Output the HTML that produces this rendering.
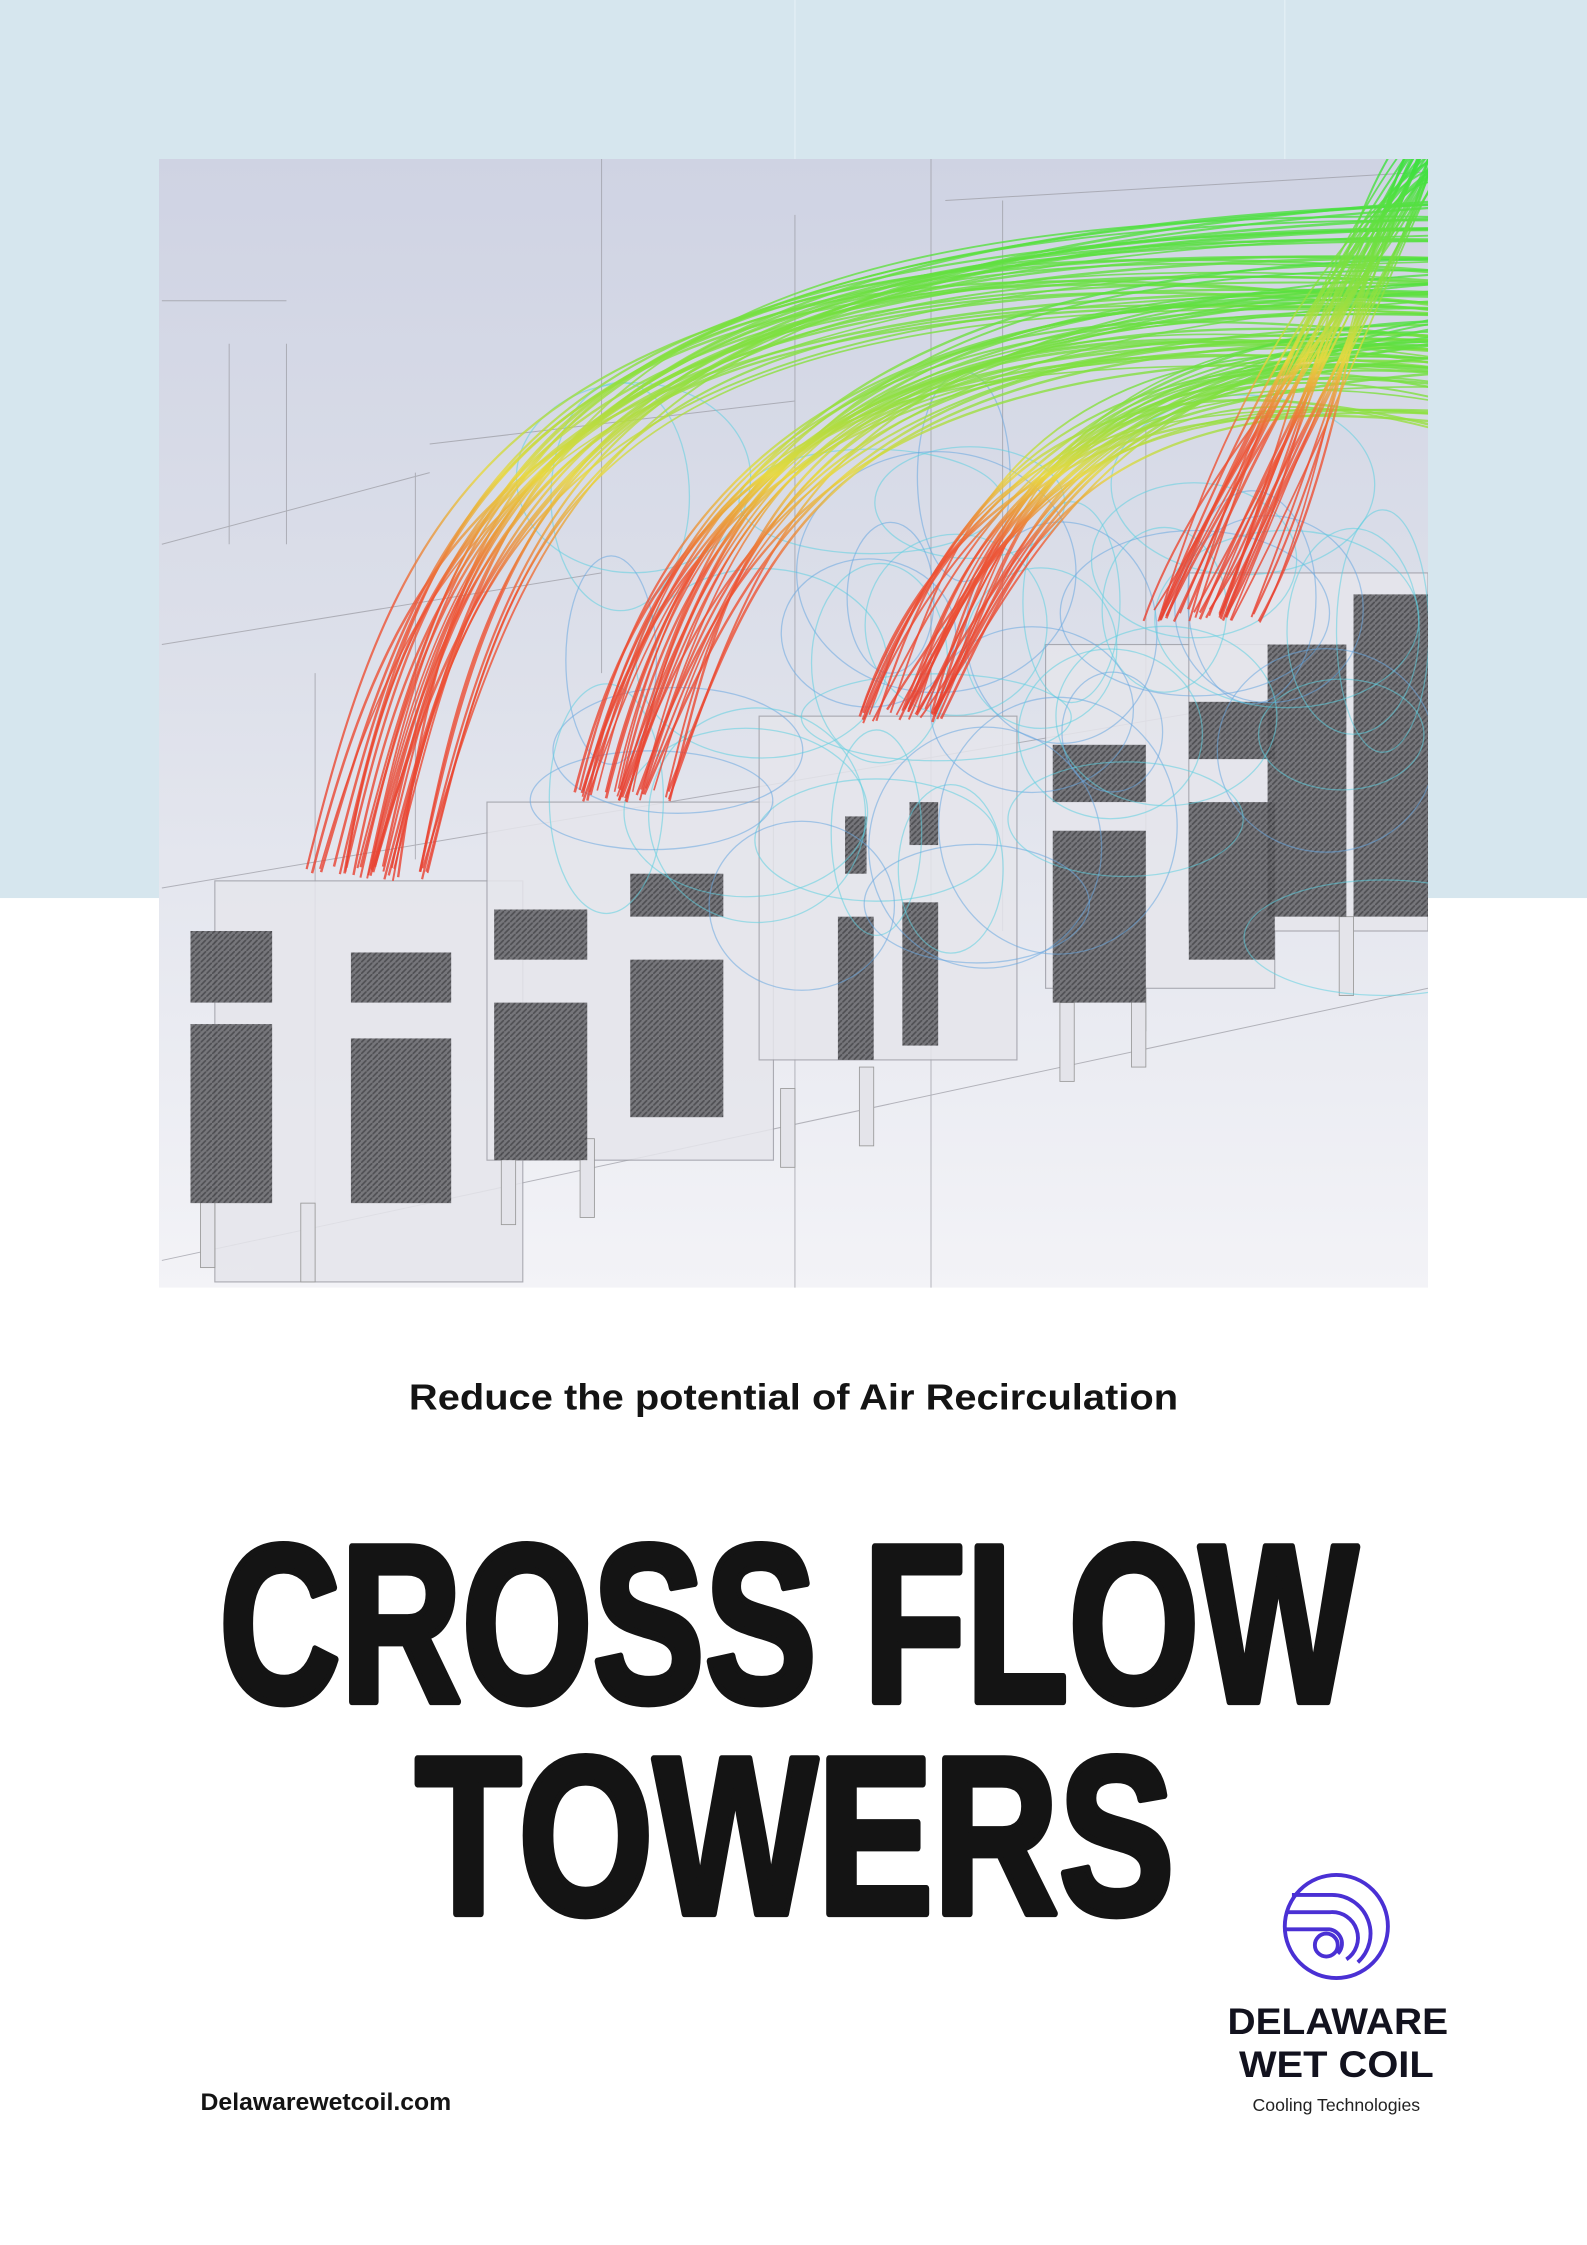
<!DOCTYPE html>
<html><head><meta charset="utf-8">
<style>
html,body{margin:0;padding:0;background:#fff;}
svg{display:block;}
</style></head>
<body>
<svg id="s" width="1587" height="2245" viewBox="0 0 1108 1567.4" xmlns="http://www.w3.org/2000/svg">
<defs id="defs">
<linearGradient id="bg" x1="0" y1="0" x2="0" y2="1">
<stop offset="0" stop-color="#cfd3e3"/><stop offset="0.45" stop-color="#dde0ea"/><stop offset="1" stop-color="#f3f3f7"/>
</linearGradient>
<clipPath id="cp"><rect x="111" y="111" width="886" height="788"/></clipPath>
<pattern id="hatch" width="4" height="4" patternUnits="userSpaceOnUse">
<rect width="4" height="4" fill="#6a6a6e"/><path d="M0 4L4 0" stroke="#3e3e42" stroke-width="1.2"/>
</pattern>
</defs>
<rect x="0" y="0" width="1108" height="627" fill="#d6e6ee"/>
<line x1="555" y1="0" x2="555" y2="627" stroke="#e2eef4" stroke-width="1"/>
<line x1="897" y1="0" x2="897" y2="627" stroke="#e2eef4" stroke-width="1"/>
<g clip-path="url(#cp)">
<rect x="111" y="111" width="886" height="788" fill="url(#bg)"/>
<g id="wire" fill="none" stroke="#9a9aa2" stroke-width="0.7" opacity="0.7"></g>
<g id="boxes"></g>
<g id="lines" fill="none"></g>
</g>
<text x="554" y="984" text-anchor="middle" font-family="Liberation Sans, sans-serif" font-size="25" font-weight="bold" fill="#141414" textLength="537" lengthAdjust="spacingAndGlyphs">Reduce the potential of Air Recirculation</text>
<text x="153" y="1188" font-family="Liberation Sans, sans-serif" font-size="157" font-weight="bold" fill="#141414" stroke="#141414" stroke-width="5" stroke-linejoin="round" textLength="795" lengthAdjust="spacingAndGlyphs">CROSS FLOW</text>
<text x="290" y="1336" font-family="Liberation Sans, sans-serif" font-size="157" font-weight="bold" fill="#141414" stroke="#141414" stroke-width="5" stroke-linejoin="round" textLength="530" lengthAdjust="spacingAndGlyphs">TOWERS</text>
<g fill="none" stroke="#4a30d4" stroke-width="2.7">
<circle cx="933" cy="1345" r="36"/>
<path d="M902 1323 H930 A27 27 0 0 1 948 1370"/>
<path d="M898 1335 H929 A18 18 0 0 1 940 1368"/>
<path d="M898 1347 H928 A10 10 0 0 1 934 1364"/>
<circle cx="926" cy="1358" r="8"/>
</g>
<text x="934" y="1420" text-anchor="middle" font-family="Liberation Sans, sans-serif" font-size="26" font-weight="bold" fill="#12121e" textLength="154" lengthAdjust="spacingAndGlyphs">DELAWARE</text>
<text x="933" y="1450" text-anchor="middle" font-family="Liberation Sans, sans-serif" font-size="26" font-weight="bold" fill="#12121e" textLength="136" lengthAdjust="spacingAndGlyphs">WET COIL</text>
<text x="933" y="1474" text-anchor="middle" font-family="Liberation Sans, sans-serif" font-size="12" fill="#222" textLength="117" lengthAdjust="spacingAndGlyphs">Cooling Technologies</text>
<text x="140" y="1473" font-family="Liberation Sans, sans-serif" font-size="17" font-weight="bold" fill="#141414" textLength="175" lengthAdjust="spacingAndGlyphs">Delawarewetcoil.com</text>
</svg>
<script>
var NS="http://www.w3.org/2000/svg";
function el(p,t,a){var e=document.createElementNS(NS,t);for(var k in a)e.setAttribute(k,a[k]);document.getElementById(p).appendChild(e);return e;}
var w=[[113,210,200,210],[160,240,160,380],[200,240,200,380],[113,380,300,330],[113,450,420,400],[300,310,555,280],[420,110,420,470],[555,150,555,900],[650,110,650,900],[660,140,997,120],[113,880,997,690],[700,140,700,650],[113,620,997,470],[220,470,220,890],[290,330,290,600],[800,300,800,720]];
w.forEach(function(l){el("wire","line",{x1:l[0],y1:l[1],x2:l[2],y2:l[3]});});
var tb=[[150,615,215,280],[340,560,200,250],[530,500,180,240],[730,450,160,240],[830,400,167,250]];
tb.forEach(function(b){el("boxes","rect",{x:b[0],y:b[1],width:b[2],height:b[3],fill:"#e6e6ec",stroke:"#a0a0a8","stroke-width":0.8,opacity:0.85});});
[[140,830],[210,840],[350,800],[405,795],[545,760],[600,745],[740,700],[790,690],[935,640]].forEach(function(p){el("boxes","rect",{x:p[0],y:p[1],width:10,height:55,fill:"#e4e4ea",stroke:"#999","stroke-width":0.6});});
var d=[[133,650,57,50],[133,715,57,125],[245,665,70,35],[245,725,70,115],[345,635,65,35],[345,700,65,110],[440,610,65,30],[440,670,65,110],[590,570,15,40],[635,560,20,30],[585,640,25,100],[630,630,25,100],[735,520,65,40],[735,580,65,120],[830,490,60,40],[830,560,60,110],[885,450,55,190],[945,415,52,225]];
d.forEach(function(b){el("boxes","rect",{x:b[0],y:b[1],width:b[2],height:b[3],fill:"url(#hatch)",opacity:0.9});});
function rnd(s){var x=Math.sin(s*9301+49297)*233280;return x-Math.floor(x);}
var seed=1;function r(){seed++;return rnd(seed);}
for(var i=0;i<45;i++){var cx=420+r()*560,cy=330+r()*350,rx=30+r()*70,ry=30+r()*60;
el("lines","ellipse",{cx:cx,cy:cy,rx:rx,ry:ry,stroke:r()<0.5?"#5fd0e0":"#6aa8e0","stroke-width":0.9,opacity:0.55});}
var bundles=[[210,300,610,300,300,150],[400,470,555,470,320,190],[600,660,500,650,340,230],[795,880,430,860,260,140]];
bundles.forEach(function(b,bi){
 var gid="g"+bi;var lg=el("defs","linearGradient",{id:gid,gradientUnits:"userSpaceOnUse",x1:0,y1:b[2],x2:0,y2:b[5]-20});
 [["0","#e84030"],["0.4","#ee5535"],["0.58","#e8d840"],["0.72","#90e040"],["1","#40e040"]].forEach(function(s){var st=document.createElementNS(NS,"stop");st.setAttribute("offset",s[0]);st.setAttribute("stop-color",s[1]);lg.appendChild(st);});
 for(var k=0;k<34;k++){
  var x0=b[0]+r()*(b[1]-b[0]),y0=b[2]+r()*10-5;
  var c1x=x0+40+r()*40,c1y=b[4]+r()*60;
  var c2x=b[3]+60+r()*80,c2y=b[5]+r()*60-10;
  var ex=1000,ey=b[5]-10+r()*(bi==3?-60:80);
  el("lines","path",{d:"M"+x0+" "+y0+" C"+c1x+" "+c1y+" "+c2x+" "+c2y+" "+ex+" "+ey,stroke:"url(#"+gid+")","stroke-width":1.1+r()*0.8,opacity:0.8});
 }
});
</script>
</body></html>
